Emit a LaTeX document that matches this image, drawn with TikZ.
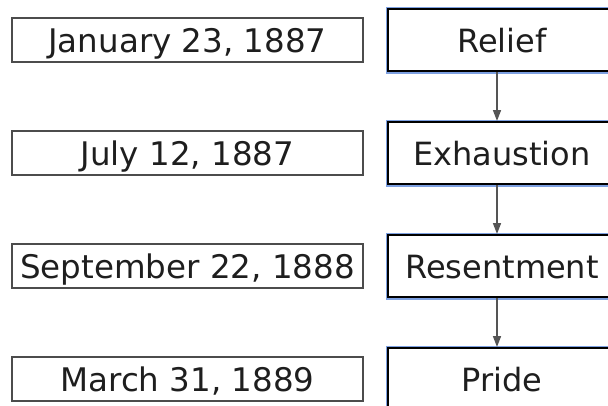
\documentclass[tikz,border=0pt]{standalone}
\usepackage{fontspec}
\setmainfont{DejaVu Sans}
\usetikzlibrary{arrows.meta}
\definecolor{edgeblue}{RGB}{125,160,225}
\definecolor{arrowgray}{RGB}{85,85,85}
\definecolor{textdark}{RGB}{30,30,30}

\begin{document}
\begin{tikzpicture}[x=1pt,y=-1pt,node distance=113pt,
    date node/.style={draw=black!70,line width=1.4pt,minimum width=351pt,minimum height=44pt,inner sep=0pt,text height=24pt,text depth=0pt,text=textdark,font=\fontsize{32.5}{38}\selectfont},
    mood node/.style={draw=black,fill=white,line width=2pt,preaction={draw=edgeblue,line width=5pt},minimum width=228pt,minimum height=62pt,inner sep=0pt,text height=24pt,text depth=0pt,text=textdark,font=\fontsize{32}{38}\selectfont},
    flow/.style={draw=arrowgray,line width=1.6pt,-{Triangle[width=8pt,length=11pt]}}]
    \clip (0,0) rectangle (608,405);

    % dates
    \node[date node] (d1) at (187.5,40) {January 23, 1887};
    \node[date node] (d2) [below of=d1] {July 12, 1887};
    \node[date node] (d3) [below of=d2] {September 22, 1888};
    \node[date node] (d4) [below of=d3] {March 31, 1889};

    % feelings
    \node[mood node] (m1) [node distance=314.5pt, right of=d1] {Relief};
    \node[mood node] (m2) [node distance=314.5pt, right of=d2] {Exhaustion};
    \node[mood node] (m3) [node distance=314.5pt, right of=d3] {Resentment};
    \node[mood node] (m4) [node distance=314.5pt, right of=d4] {Pride};

    \path
        ([xshift=-5pt]m1.south) edge[flow] ([xshift=-5pt]m2.north)
        ([xshift=-5pt]m2.south) edge[flow] ([xshift=-5pt]m3.north)
        ([xshift=-5pt]m3.south) edge[flow] ([xshift=-5pt]m4.north)
        ;
\end{tikzpicture}
\end{document}
